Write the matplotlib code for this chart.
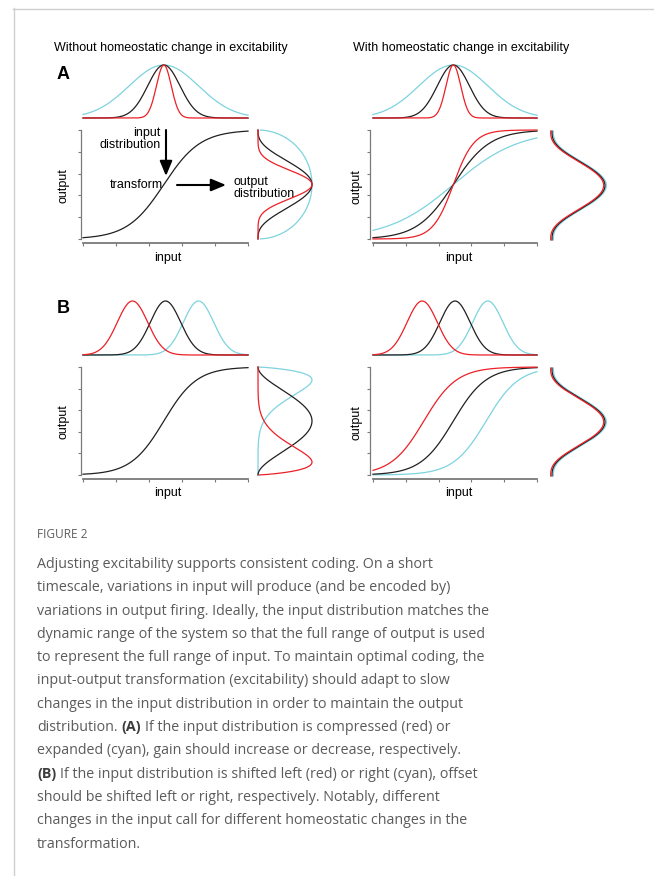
import numpy as np
import matplotlib
matplotlib.use('Agg')
import matplotlib.pyplot as plt

W, H = 654, 876

RED = '#ec2027'
BLACK = '#231f20'
CYAN = '#7dd3df'
curve_colors = [RED, BLACK, CYAN]

# input distributions (centre, width)
a_in_center = [0.49, 0.49, 0.49]
a_in_sigma = [0.045, 0.098, 0.21]
b_in_center = [0.30, 0.50, 0.70]
b_in_sigma = [0.092, 0.092, 0.092]

# input-output transforms (midpoint, gain)
a_left_mid, a_left_gain = 0.49, 9.0
a_right_mid = [0.49, 0.49, 0.49]
a_right_gain = [16.0, 9.0, 5.0]
b_left_mid, b_left_gain = 0.49, 10.0
b_right_mid = [0.31, 0.49, 0.69]
b_right_gain = [10.0, 10.0, 10.0]

# output distributions: shape params (a, b) and small drawing offsets
a_left_out = [(8.5, 8.5), (4.0, 4.0), (1.5, 1.5)]
b_left_out = [(1.8, 6.9), (3.0, 3.0), (6.9, 1.8)]
right_out = (4.0, 4.0)
right_out_shift = [-0.025, 0.0, 0.025]

tick_pos = [0, 0.2, 0.4, 0.6, 0.8, 1.0]

caption_lines = [
    "Adjusting excitability supports consistent coding. On a short",
    "timescale, variations in input will produce (and be encoded by)",
    "variations in output firing. Ideally, the input distribution matches the",
    "dynamic range of the system so that the full range of output is used",
    "to represent the full range of input. To maintain optimal coding, the",
    "input-output transformation (excitability) should adapt to slow",
    "changes in the input distribution in order to maintain the output",
    ["distribution. ", "(A)", " If the input distribution is compressed (red) or"],
    "expanded (cyan), gain should increase or decrease, respectively.",
    ["", "(B)", " If the input distribution is shifted left (red) or right (cyan), offset"],
    "should be shifted left or right, respectively. Notably, different",
    "changes in the input call for different homeostatic changes in the",
    "transformation.",
]

xs = np.linspace(0, 1, 400)
ys = np.linspace(0.0005, 0.9995, 400)


def gauss(x, c, s):
    return np.exp(-(x - c) ** 2 / (2 * s * s))


def logistic(x, m, k):
    return 1.0 / (1.0 + np.exp(-k * (x - m)))


def out_shape(y, a, b):
    d = y ** (a - 1) * (1 - y) ** (b - 1)
    return d / d.max()


plt.rcParams['font.family'] = ['Liberation Sans', 'DejaVu Sans']
fig = plt.figure(figsize=(W / 100, H / 100), dpi=100)
fig.patch.set_facecolor('white')


def add_ax(x0, y0, x1, y1):
    return fig.add_axes([x0 / W, 1 - y1 / H, (x1 - x0) / W, (y1 - y0) / H])


def fx(x):
    return x / W


def fy(y):
    return 1 - y / H


def marg(ax):
    ax.set_xlim(0, 1)
    ax.set_ylim(0, 1)
    ax.axis('off')


def main_style(ax, left_off, bottom_off):
    ax.set_xlim(0, 1)
    ax.set_ylim(0, 1)
    ax.patch.set_alpha(0)
    ax.spines['top'].set_visible(False)
    ax.spines['right'].set_visible(False)
    ax.spines['left'].set_position(('outward', left_off * 0.72))
    ax.spines['bottom'].set_position(('outward', bottom_off * 0.72))
    for s in ['left', 'bottom']:
        ax.spines[s].set_color('#7a7a7a')
        ax.spines[s].set_linewidth(0.9)
    ax.spines['bottom'].set_linewidth(1.3)
    ax.set_xticks(tick_pos)
    ax.set_yticks(tick_pos)
    ax.tick_params(length=2.2, width=0.8, color='#7a7a7a',
                   labelbottom=False, labelleft=False)


LW = 0.9
order = [2, 1, 0]

# ---------------- panel A, left ----------------
ax = add_ax(83, 65, 248, 118)
marg(ax)
for i in order:
    ax.plot(xs, gauss(xs, a_in_center[i], a_in_sigma[i]), color=curve_colors[i], lw=LW, clip_on=False)

ax = add_ax(83, 130, 248, 239)
main_style(ax, 2, 4)
ax.plot(xs, logistic(xs, a_left_mid, a_left_gain), color=BLACK, lw=LW, clip_on=False)

ax = add_ax(258, 130, 312, 239)
marg(ax)
for i in order:
    ax.plot(out_shape(ys, *a_left_out[i]), ys, color=curve_colors[i], lw=LW, clip_on=False)

# ---------------- panel A, right ----------------
ax = add_ax(373, 65, 537, 118)
marg(ax)
for i in order:
    ax.plot(xs, gauss(xs, a_in_center[i], a_in_sigma[i]), color=curve_colors[i], lw=LW, clip_on=False)

ax = add_ax(373, 130, 537, 239)
main_style(ax, 3, 4)
for i in order:
    ax.plot(xs, logistic(xs, a_right_mid[i], a_right_gain[i]), color=curve_colors[i], lw=LW, clip_on=False)

ax = add_ax(552, 131, 605, 240)
marg(ax)
for i in order:
    ax.plot(out_shape(ys, *right_out) + right_out_shift[i], ys, color=curve_colors[i], lw=LW, clip_on=False)

# ---------------- panel B, left ----------------
ax = add_ax(83, 301, 248, 355)
marg(ax)
for i in order:
    ax.plot(xs, gauss(xs, b_in_center[i], b_in_sigma[i]), color=curve_colors[i], lw=LW, clip_on=False)

ax = add_ax(83, 367, 248, 475)
main_style(ax, 2, 4)
ax.plot(xs, logistic(xs, b_left_mid, b_left_gain), color=BLACK, lw=LW, clip_on=False)

ax = add_ax(258, 367, 312, 475)
marg(ax)
for i in order:
    ax.plot(out_shape(ys, *b_left_out[i]), ys, color=curve_colors[i], lw=LW, clip_on=False)

# ---------------- panel B, right ----------------
ax = add_ax(373, 301, 537, 355)
marg(ax)
for i in order:
    ax.plot(xs, gauss(xs, b_in_center[i], b_in_sigma[i]), color=curve_colors[i], lw=LW, clip_on=False)

ax = add_ax(373, 367, 537, 475)
main_style(ax, 3, 4)
for i in order:
    ax.plot(xs, logistic(xs, b_right_mid[i], b_right_gain[i]), color=curve_colors[i], lw=LW, clip_on=False)

ax = add_ax(552, 368, 605, 476)
marg(ax)
for i in order:
    ax.plot(out_shape(ys, *right_out) + right_out_shift[i], ys, color=curve_colors[i], lw=LW, clip_on=False)

# ---------------- labels ----------------
fs = 9
fig.text(fx(54), fy(51), 'Without homeostatic change in excitability', fontsize=fs, va='baseline')
fig.text(fx(353), fy(51), 'With homeostatic change in excitability', fontsize=fs, va='baseline')
fig.text(fx(57), fy(79), 'A', fontsize=13, fontweight='bold', va='baseline')
fig.text(fx(57), fy(313), 'B', fontsize=13, fontweight='bold', va='baseline')

for yc in [186, 422]:
    fig.text(fx(64), fy(yc), 'output', fontsize=fs, rotation=90, ha='center', va='center')
    fig.text(fx(357), fy(yc + 1), 'output', fontsize=fs, rotation=90, ha='center', va='center')
for yc in [258, 493]:
    fig.text(fx(168), fy(yc), 'input', fontsize=fs, ha='center', va='center')
    fig.text(fx(459), fy(yc), 'input', fontsize=fs, ha='center', va='center')

# annotations in panel A
fig.text(fx(161), fy(127), 'input\ndistribution', fontsize=fs, ha='right', va='top',
         multialignment='right', linespacing=0.95)
fig.text(fx(163), fy(185), 'transform', fontsize=fs, ha='right', va='center')
fig.text(fx(234), fy(176), 'output\ndistribution', fontsize=fs, ha='left', va='top',
         multialignment='left', linespacing=0.95)
arrow = dict(arrowstyle='-|>,head_length=0.6,head_width=0.25', lw=1.5, color='black',
             mutation_scale=15, shrinkA=0, shrinkB=0)
fig.add_artist(matplotlib.patches.FancyArrowPatch((fx(166), fy(130)), (fx(166), fy(176)),
                                                  transform=fig.transFigure, **arrow))
fig.add_artist(matplotlib.patches.FancyArrowPatch((fx(177), fy(185)), (fx(226), fy(185)),
                                                  transform=fig.transFigure, **arrow))

# ---------------- caption ----------------
border = '#cfcfcf'
fig.add_artist(plt.Line2D([fx(13), fx(W)], [fy(8.5), fy(8.5)], color=border, lw=1))
fig.add_artist(plt.Line2D([fx(13.5), fx(13.5)], [fy(8), fy(H)], color=border, lw=1))

cap_font = ['Open Sans', 'DejaVu Sans']
cap_color = '#5b5b5b'
cap_fs = 10.3
fig.text(fx(37), fy(538), 'FIGURE 2', fontsize=8.6, color='#5f5f5f', family=cap_font, va='baseline')

renderer = fig.canvas.get_renderer()


def text_width(s, **kw):
    t = fig.text(0, 0, s, fontsize=cap_fs, family=cap_font, **kw)
    w = t.get_window_extent(renderer).width
    t.remove()
    return w


space_w = text_width('a a') - text_width('aa')

for i, line in enumerate(caption_lines):
    yb = fy(568 + 23.3 * i)
    if isinstance(line, str):
        fig.text(fx(37), yb, line, fontsize=cap_fs, family=cap_font, color=cap_color, va='baseline')
    else:
        x = 37.0
        for j, piece in enumerate(line):
            piece_s = piece.strip()
            if not piece_s:
                continue
            if piece.startswith(' '):
                x += space_w
            bold = (j == 1)
            t = fig.text(fx(x), yb, piece_s, fontsize=cap_fs, family=cap_font,
                         color='#3c3c3c' if bold else cap_color,
                         fontweight='bold' if bold else 'normal', va='baseline')
            x += t.get_window_extent(renderer).width
            if piece.endswith(' '):
                x += space_w

fig.savefig('out.png', dpi=100, facecolor='white')
